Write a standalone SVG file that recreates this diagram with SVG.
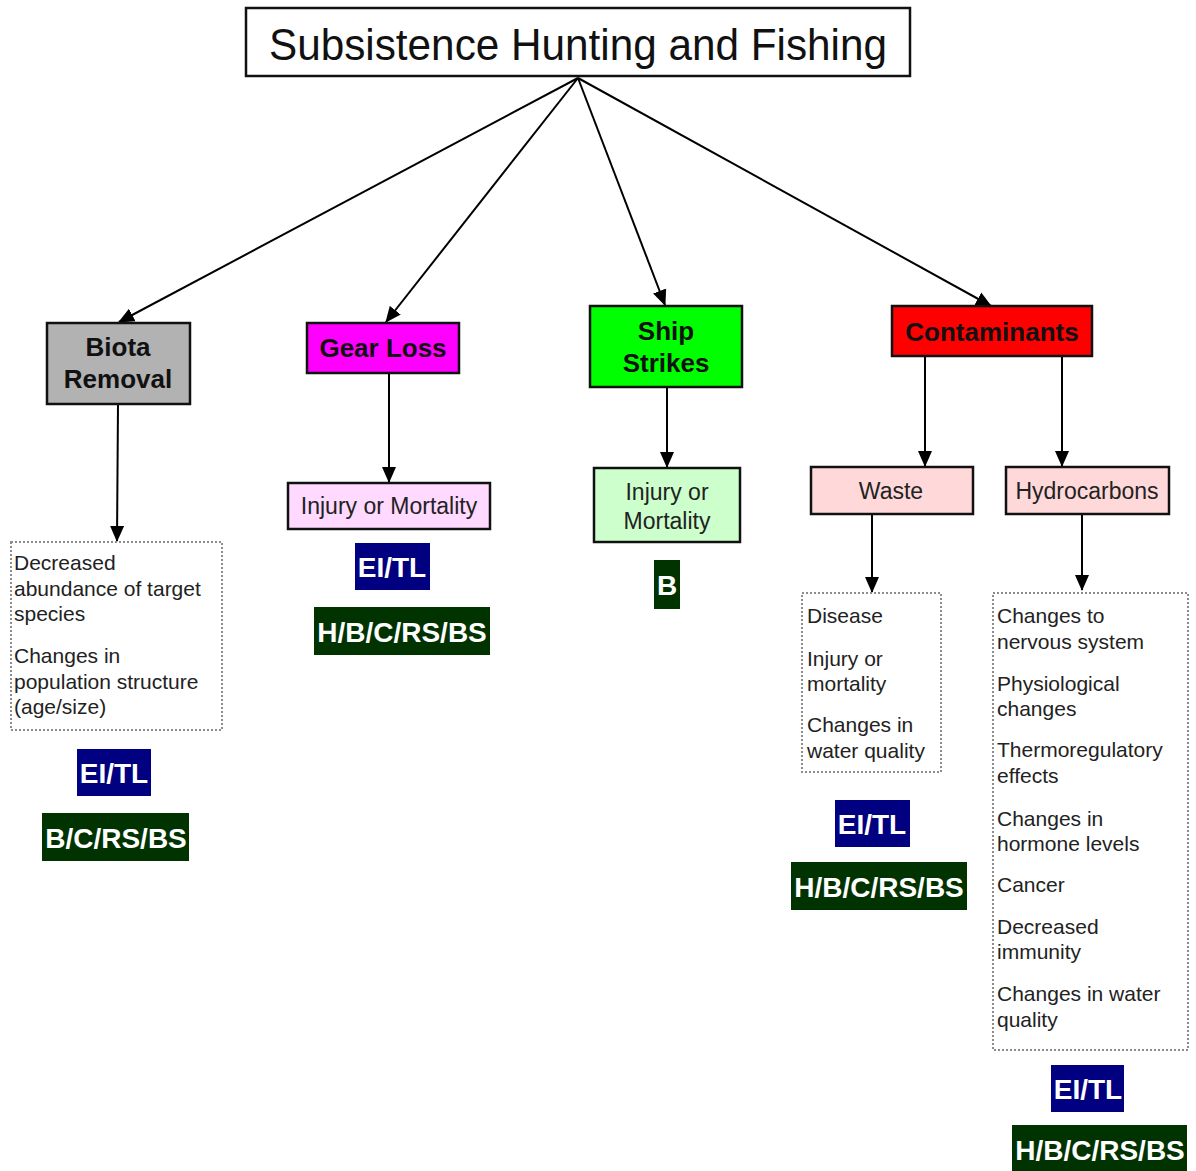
<svg xmlns="http://www.w3.org/2000/svg" width="1196" height="1171" viewBox="0 0 1196 1171">
<style>
text{font-family:"Liberation Sans",Arial,sans-serif}
.box{stroke:#111;stroke-width:2.5}
.hd{font-weight:bold;font-size:26px;fill:#111;text-anchor:middle}
.bd{font-size:23px;fill:#222;text-anchor:middle}
.dot{fill:#fff;stroke:#8c8c8c;stroke-width:2;stroke-dasharray:2 2}
.lst{font-size:21px;fill:#222}
.bl{fill:#000080}
.gr{fill:#003300}
.bg{font-weight:bold;font-size:28px;fill:#fff;text-anchor:middle}
.con{stroke:#000;stroke-width:2;fill:none;marker-end:url(#ah)}
</style>
<defs>
<marker id="ah" markerUnits="userSpaceOnUse" markerWidth="16" markerHeight="16" viewBox="0 0 16 16" refX="15" refY="8" orient="auto">
<path d="M0,1 L16,8 L0,15 Z" fill="#000"/>
</marker>
</defs>
<rect width="1196" height="1171" fill="#fff"/>
<g id="connectors">
<line class="con" x1="578" y1="78" x2="119" y2="322"/>
<line class="con" x1="578" y1="78" x2="386" y2="322"/>
<line class="con" x1="578" y1="78" x2="665" y2="305"/>
<line class="con" x1="578" y1="78" x2="991" y2="306"/>
<line class="con" x1="118" y1="404" x2="117" y2="541"/>
<line class="con" x1="389" y1="373" x2="389" y2="482"/>
<line class="con" x1="667" y1="387" x2="667" y2="467"/>
<line class="con" x1="925" y1="356" x2="925" y2="466"/>
<line class="con" x1="1062" y1="356" x2="1062" y2="466"/>
<line class="con" x1="872" y1="514" x2="872" y2="592"/>
<line class="con" x1="1082" y1="514" x2="1082" y2="590"/>
</g>
<g id="title">
<rect class="box" x="246" y="8" width="664" height="68" fill="#fff"/>
<text x="578" y="60" font-size="44" fill="#111" text-anchor="middle" textLength="618" lengthAdjust="spacingAndGlyphs">Subsistence Hunting and Fishing</text>
</g>
<g id="biota-removal">
<rect class="box" x="47" y="323" width="143" height="81" fill="#b2b2b2"/>
<text class="hd" x="118" y="356">Biota</text>
<text class="hd" x="118" y="388">Removal</text>
</g>
<g id="biota-effects">
<rect class="dot" x="11" y="542" width="211" height="188"/>
<text class="lst" x="14" y="570">Decreased</text>
<text class="lst" x="14" y="596">abundance of target</text>
<text class="lst" x="14" y="621">species</text>
<text class="lst" x="14" y="663">Changes in</text>
<text class="lst" x="14" y="689">population structure</text>
<text class="lst" x="14" y="714">(age/size)</text>
</g>
<g id="biota-eitl"><rect class="bl" x="77" y="749" width="74" height="47"/><text class="bg" x="114" y="783">EI/TL</text></g>
<g id="biota-codes"><rect class="gr" x="42" y="813" width="147" height="48"/><text class="bg" x="116" y="848">B/C/RS/BS</text></g>

<g id="gear-loss">
<rect class="box" x="307" y="323" width="152" height="50" fill="#ff00ff"/>
<text class="hd" x="383" y="357">Gear Loss</text>
</g>
<g id="gear-injury">
<rect class="box" x="288" y="483" width="202" height="46" fill="#ffd9ff"/>
<text class="bd" x="389" y="514">Injury or Mortality</text>
</g>
<g id="gear-eitl"><rect class="bl" x="355" y="543" width="75" height="47"/><text class="bg" x="392" y="577">EI/TL</text></g>
<g id="gear-codes"><rect class="gr" x="314" y="607" width="176" height="48"/><text class="bg" x="402" y="642">H/B/C/RS/BS</text></g>

<g id="ship-strikes">
<rect class="box" x="590" y="306" width="152" height="81" fill="#00ff00"/>
<text class="hd" x="666" y="340">Ship</text>
<text class="hd" x="666" y="372">Strikes</text>
</g>
<g id="ship-injury">
<rect class="box" x="594" y="468" width="146" height="74" fill="#ccffcc"/>
<text class="bd" x="667" y="500">Injury or</text>
<text class="bd" x="667" y="529">Mortality</text>
</g>
<g id="ship-codes"><rect class="gr" x="654" y="560" width="26" height="49"/><text class="bg" x="667" y="595">B</text></g>

<g id="contaminants">
<rect class="box" x="892" y="306" width="200" height="50" fill="#ff0000"/>
<text class="hd" x="992" y="341">Contaminants</text>
</g>
<g id="waste">
<rect class="box" x="811" y="467" width="162" height="47" fill="#ffd9d9"/>
<text class="bd" x="891" y="499">Waste</text>
</g>
<g id="hydrocarbons">
<rect class="box" x="1006" y="467" width="163" height="47" fill="#ffd9d9"/>
<text class="bd" x="1087" y="499">Hydrocarbons</text>
</g>
<g id="waste-effects">
<rect class="dot" x="802" y="593" width="139" height="179"/>
<text class="lst" x="807" y="623">Disease</text>
<text class="lst" x="807" y="666">Injury or</text>
<text class="lst" x="807" y="691">mortality</text>
<text class="lst" x="807" y="732">Changes in</text>
<text class="lst" x="807" y="758">water quality</text>
</g>
<g id="waste-eitl"><rect class="bl" x="835" y="800" width="75" height="47"/><text class="bg" x="872" y="834">EI/TL</text></g>
<g id="waste-codes"><rect class="gr" x="791" y="862" width="176" height="48"/><text class="bg" x="879" y="897">H/B/C/RS/BS</text></g>
<g id="hydro-effects">
<rect class="dot" x="993" y="593" width="195" height="457"/>
<text class="lst" x="997" y="623">Changes to</text>
<text class="lst" x="997" y="649">nervous system</text>
<text class="lst" x="997" y="691">Physiological</text>
<text class="lst" x="997" y="716">changes</text>
<text class="lst" x="997" y="757">Thermoregulatory</text>
<text class="lst" x="997" y="783">effects</text>
<text class="lst" x="997" y="826">Changes in</text>
<text class="lst" x="997" y="851">hormone levels</text>
<text class="lst" x="997" y="892">Cancer</text>
<text class="lst" x="997" y="934">Decreased</text>
<text class="lst" x="997" y="959">immunity</text>
<text class="lst" x="997" y="1001">Changes in water</text>
<text class="lst" x="997" y="1027">quality</text>
</g>
<g id="hydro-eitl"><rect class="bl" x="1051" y="1065" width="73" height="47"/><text class="bg" x="1088" y="1099">EI/TL</text></g>
<g id="hydro-codes"><rect class="gr" x="1012" y="1125" width="175" height="46"/><text class="bg" x="1100" y="1160">H/B/C/RS/BS</text></g>
</svg>
